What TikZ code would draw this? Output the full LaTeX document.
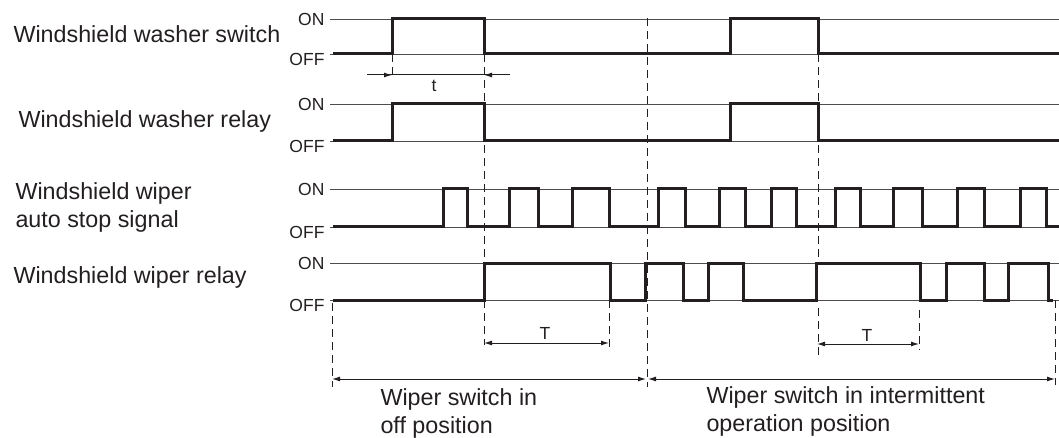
\documentclass[tikz,border=0pt]{standalone}
\usepackage{fontspec}
\setmainfont{Liberation Sans}
\usetikzlibrary{arrows.meta}
\definecolor{ink}{RGB}{35,31,32}

\begin{document}
\begin{tikzpicture}[x=1pt, y=-1pt, color=ink,
    >={Latex[length=8pt,width=5pt]},
    sig/.style={line width=3pt, line join=miter},
    lvl/.style={line width=0.9pt, ink!80},
    guide/.style={line width=1pt, dash pattern=on 8pt off 5pt},
    dim/.style={line width=1pt},
    lab/.style={font=\fontsize{23.3}{28}\selectfont, anchor=base west, align=left},
    st/.style={font=\fontsize{17.5}{20}\selectfont, anchor=east}]
  \useasboundingbox (0,0) rectangle (1059,438);
  % signal names
  \node[lab] (washsw) at (10,43) {Windshield washer switch};
  \node[lab] (washrl) at (15,128) {Windshield washer relay};
  \node[lab] (autostop) at (12,228) {Windshield wiper\\auto stop signal};
  \node[lab] (wiperrl) at (10,283) {Windshield wiper relay};
  % ON / OFF levels
  \foreach \on/\off [count=\i] in {19/54, 104/141, 189/227, 263/300} {
    \draw[lvl] (330,\on) -- (1059,\on);
    \draw[lvl] (330,\off) -- (1059,\off);
    \node[st] (on\i) at (328,\on) {ON};
    \node[st] (off\i) at (328,\off+5) {OFF};
  }
  % guide lines
  \foreach \x/\ya/\yb in {392/54/79, 484/54/263, 484/300/345, 647/18/387,
      818/54/263, 818/308/357, 609/300/350, 919/310/350, 332/303/387, 1055/300/385}
    \draw[guide] (\x,\ya) -- (\x,\yb);
  % waveforms
  \draw[sig] (333,54) foreach \a/\b in {392/484, 730/818} { -| (\a,19) -| (\b,54) } -- (1059,54);
  \draw[sig] (333,141) foreach \a/\b in {392/484, 730/818} { -| (\a,104) -| (\b,141) } -- (1059,141);
  \draw[sig] (333,227) foreach \a/\b in {443/467, 509/538, 572/609, 658/685, 719/745,
      771/796, 835/860, 893/922, 957/984, 1020/1046} { -| (\a,189) -| (\b,227) } -- (1059,227);
  \draw[sig] (333,300) foreach \a/\b in {484/610, 645/683, 708/743, 816/920,
      946/984, 1008/1048} { -| (\a,263) -| (\b,300) } -- (1053,300);
  % t
  \coordinate (tl0) at (367,75);
  \coordinate (tl) at (392,75);
  \coordinate (tr) at (484,75);
  \coordinate (tr0) at (510,75);
  \draw[dim] (tl0) -- (tr0);
  \draw[dim, ->] (tl0) -- (tl);
  \draw[dim, ->] (tr0) -- (tr);
  \node[font=\fontsize{17.5}{20}\selectfont] (tlab) at (434,86) {t};
  % T
  \coordinate (Ta) at (484,343);
  \coordinate (Tb) at (609,343);
  \coordinate (Tc) at (817,344);
  \coordinate (Td) at (919,344);
  \draw[dim, <->] (Ta) -- (Tb);
  \draw[dim, <->] (Tc) -- (Td);
  \node[font=\fontsize{17.5}{20}\selectfont] (T1) at (545,333) {T};
  \node[font=\fontsize{17.5}{20}\selectfont] (T2) at (867,335) {T};
  % switch positions
  \coordinate (p0) at (332,379);
  \coordinate (p1) at (646,379);
  \coordinate (p2) at (648,379);
  \coordinate (p3) at (1055,379);
  \draw[dim, <->] (p0) -- (p1);
  \draw[dim, <->] (p2) -- (p3);
  \node[lab] (offpos) at (377,433) {Wiper switch in\\off position};
  \node[lab] (intpos) at (703,431) {Wiper switch in intermittent\\operation position};
\end{tikzpicture}
\end{document}
